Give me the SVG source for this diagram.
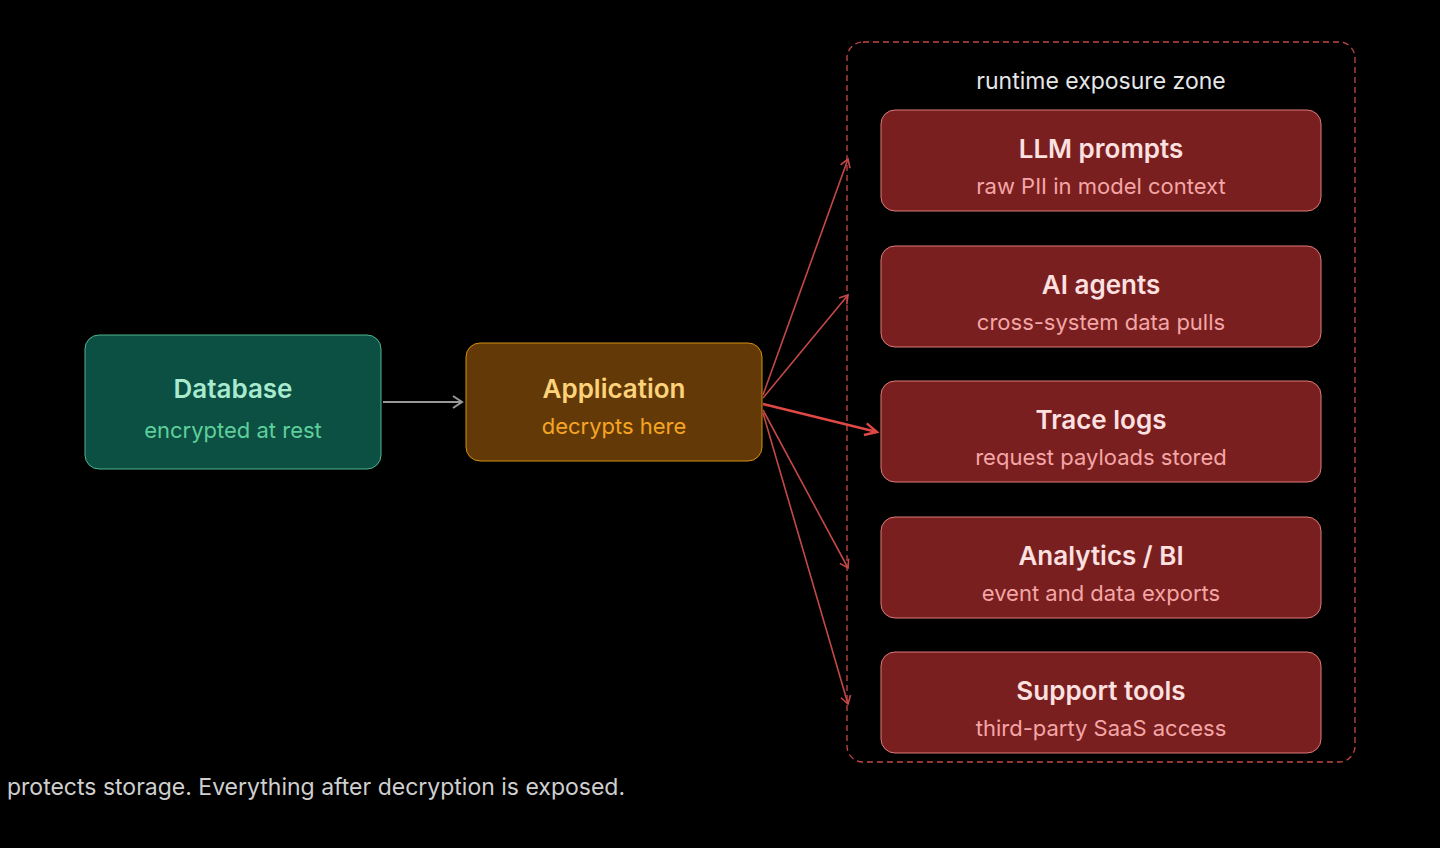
<svg xmlns="http://www.w3.org/2000/svg" width="1440" height="848" viewBox="0 0 1440 848">
<style>
text{font-family:Inter,"Noto Sans",sans-serif;text-anchor:middle}
.t{font-size:26px;font-weight:600}
.s{font-size:22px}
.r rect{fill:#7a1f1f;stroke:#e07a7a;stroke-width:1}
.r .t{fill:#fde0e0}
.r .s{fill:#f4a6a6}
.e{stroke:#c44848;stroke-width:1.6;fill:none}
</style>
<defs>
<marker id="ar" markerWidth="12" markerHeight="12" refX="10" refY="6" orient="auto" markerUnits="userSpaceOnUse"><path d="M2,1 L10,6 L2,11" fill="none" stroke="#c44848" stroke-width="1.6"/></marker>
<marker id="ar2" markerWidth="16" markerHeight="16" refX="14" refY="8" orient="auto" markerUnits="userSpaceOnUse"><path d="M2,2 L14,8 L2,14" fill="none" stroke="#e04848" stroke-width="2.4"/></marker>
<marker id="ag" markerWidth="14" markerHeight="14" refX="12" refY="7" orient="auto" markerUnits="userSpaceOnUse"><path d="M3,1 L12,7 L3,13" fill="none" stroke="#999" stroke-width="2"/></marker>
</defs>
<rect width="1440" height="848" fill="#000"/>
<g id="zone"><rect x="847" y="42" width="508" height="720" rx="16" fill="none" stroke="#c44848" stroke-width="1.3" stroke-dasharray="6,4"/>
<text x="1101" y="89" font-size="23" fill="#e6e6e6">runtime exposure zone</text></g>
<g id="database"><rect x="85" y="335" width="296" height="134" rx="14" fill="#0b5042" stroke="#4fb592" stroke-width="1"/>
<text x="233" y="398" class="t" fill="#a8ead0">Database</text><text x="233" y="438" class="s" fill="#5fcf9c">encrypted at rest</text></g>
<g id="application"><rect x="466" y="343" width="296" height="118" rx="14" fill="#633a07" stroke="#d4900e" stroke-width="1"/>
<text x="614" y="398" class="t" fill="#fcd27a">Application</text><text x="614" y="434" class="s" fill="#f5a524">decrypts here</text></g>
<g id="llm" class="r"><rect x="881" y="110" width="440" height="101" rx="14"/><text x="1101" y="158" class="t">LLM prompts</text><text x="1101" y="194" class="s">raw PII in model context</text></g>
<g id="agents" class="r"><rect x="881" y="246" width="440" height="101" rx="14"/><text x="1101" y="294" class="t">AI agents</text><text x="1101" y="330" class="s">cross-system data pulls</text></g>
<g id="trace" class="r"><rect x="881" y="381" width="440" height="101" rx="14"/><text x="1101" y="429" class="t">Trace logs</text><text x="1101" y="465" class="s">request payloads stored</text></g>
<g id="analytics" class="r"><rect x="881" y="517" width="440" height="101" rx="14"/><text x="1101" y="565" class="t">Analytics / BI</text><text x="1101" y="601" class="s">event and data exports</text></g>
<g id="support" class="r"><rect x="881" y="652" width="440" height="101" rx="14"/><text x="1101" y="700" class="t">Support tools</text><text x="1101" y="736" class="s">third-party SaaS access</text></g>
<g id="connectors">
<line x1="383" y1="402" x2="462" y2="402" stroke="#999" stroke-width="2" marker-end="url(#ag)"/>
<line class="e" x1="763" y1="395" x2="848" y2="159" marker-end="url(#ar)"/>
<line class="e" x1="763" y1="398" x2="848" y2="295" marker-end="url(#ar)"/>
<line x1="763" y1="404" x2="877" y2="432" stroke="#e04848" stroke-width="2.4" marker-end="url(#ar2)"/>
<line class="e" x1="763" y1="410" x2="848" y2="568" marker-end="url(#ar)"/>
<line class="e" x1="763" y1="413" x2="848" y2="704" marker-end="url(#ar)"/>
</g>
<text x="7" y="795" font-size="23" fill="#cfcfcf" style="text-anchor:start">protects storage. Everything after decryption is exposed.</text>
</svg>
